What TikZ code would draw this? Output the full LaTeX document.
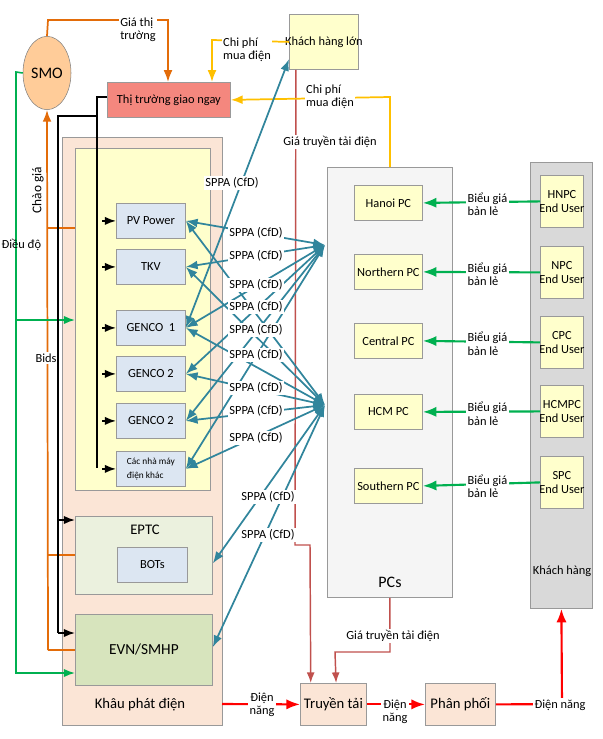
\documentclass[tikz,border=0pt]{standalone}
\usepackage{fontspec}
\setmainfont{Carlito}
\usetikzlibrary{arrows.meta, positioning, shapes.geometric, calc}
\tikzset{>=Latex}
\definecolor{peach}{HTML}{FBE5D6}
\definecolor{lyel}{HTML}{FFFFCC}
\definecolor{bgrey}{HTML}{DCE6F2}
\definecolor{lgreen}{HTML}{EBF1DE}
\definecolor{mgreen}{HTML}{D7E4BD}
\definecolor{salmon}{HTML}{F4877E}
\definecolor{teal}{HTML}{31859C}
\definecolor{dorange}{HTML}{E36C09}
\definecolor{gold}{HTML}{FFC000}
\definecolor{brick}{HTML}{C0504D}
\definecolor{ggreen}{HTML}{00B050}
\tikzset{
  box/.style n args={2}{draw=gray!80, line width=.6pt, anchor=north west, inner sep=0pt,
    minimum width=#1*0.75pt, minimum height=#2*0.75pt},
  lbl/.style={font=\fontsize{9.3}{10}\selectfont, align=center, inner sep=1pt},
  sppa/.style={lbl, fill=white},
  cfd/.style={<->, teal, line width=1.3pt},
}
\begin{document}
\begin{tikzpicture}[x=0.75pt, y=-0.75pt, font=\fontsize{9.3}{10}\selectfont]
\useasboundingbox (0,0) rectangle (603,739);
% outer groups
\node[box={160}{588}, fill=peach] (gen) at (62,137) {};
\node[box={135}{342}, fill=lyel] (ygrp) at (75,148) {};
\node[box={125}{430}, fill=black!4] (pcs) at (327,167) {};
\node[box={62}{446}, fill=black!15] (kh) at (530,162) {};
\node[lbl, font=\fontsize{11}{12}\selectfont] at (140,705) {Khâu phát điện};
\node[lbl, font=\fontsize{12}{13}\selectfont] at (390,582) {PCs};
\node[lbl] at (562,571) {Khách hàng};
% top
\node[ellipse, draw=gray, fill=orange!40, minimum width=36pt, minimum height=55pt, inner sep=0pt, font=\fontsize{12}{13}\selectfont] (smo) at (47,73) {SMO};
\node[box={123}{35}, fill=salmon] (spot) at (107,82) {};
\node[lbl] at (spot.center) {Thị trường giao ngay};
\node[box={69}{55}, fill=lyel] (khl) at (289,14) {};
\node[lbl] at (khl.center) {Khách hàng lớn};
% generators
\foreach \n/\y in {pv/203, tkv/249, g1/310, g2/356, g3/403, other/451}
  \node[box={69}{35}, fill=bgrey] (\n) at (116,\y) {};
\foreach \n/\t in {pv/PV Power, tkv/TKV, g1/GENCO\ \ 1, g2/GENCO 2, g3/GENCO 2}
  \node[lbl] at (\n.center) {\t};
\node[lbl, font=\fontsize{7}{10}\selectfont, align=left] at (other.center) {Các nhà máy\\điện khác};
\node[box={137}{78}, fill=lgreen] (eptc) at (75,516) {};
\node[lbl, font=\fontsize{11}{12}\selectfont] at (145,530) {EPTC};
\node[box={70}{35}, fill=bgrey] (bots) at (117,547) {};
\node[lbl] at (bots.center) {BOTs};
\node[box={137}{71}, fill=mgreen] (evn) at (75,614) {};
\node[lbl, font=\fontsize{11.5}{12}\selectfont] at (evn.center) {EVN/SMHP};
% PCs and end users
\foreach \n/\y in {hn/185, np/254, cp/323, hcm/394, sp/468}
  \node[box={68}{35}, fill=lyel] (\n) at (354,\y) {};
\foreach \n/\t in {hn/Hanoi PC, np/Northern PC, cp/Central PC, hcm/HCM PC, sp/Southern PC}
  \node[lbl] at (\n.center) {\t};
\foreach \n/\y in {uhn/175, unp/246, ucp/316, uhcm/385, usp/456}
  \node[box={43}{52}, fill=lyel] (\n) at (540,\y) {};
\foreach \n/\t/\p in {uhn/HNPC/hn, unp/NPC/np, ucp/CPC/cp, uhcm/HCMPC/hcm, usp/SPC/sp}{
  \node[lbl] at (\n.center) {\t\\End User};
  \draw[->, ggreen, line width=1.6pt] (\n.west) -- (\p.east);
  \node[lbl, fill=white, align=left] at ($(\n.west)!0.5!(\p.east)+(6,2)$) {Biểu giá\\bản lẻ};
}
% bottom chain
\node[box={66}{42}, fill=peach] (tt) at (300,683) {};
\node[lbl, font=\fontsize{11}{12}\selectfont] at (tt.center) {Truyền tải};
\node[box={70}{42}, fill=peach] (pp) at (425,683) {};
\node[lbl, font=\fontsize{11}{12}\selectfont] at (pp.center) {Phân phối};
\draw[->, red, line width=1.6pt] (222,704) -- (tt.west);
\node[lbl, fill=white] at (262,705) {Điện\\năng};
\draw[->, red, line width=1.6pt] (tt.east) -- (pp.west);
\node[lbl, fill=white] at (395,712) {Điện\\năng};
\coordinate (kb) at (kh.south);
\draw[->, red, line width=1.6pt] (pp.east) -- (562,704) -- (kb);
\node[lbl, fill=white] at (560,705) {Điện năng};
% transmission price
\draw[->, brick, line width=1.1pt] ([xshift=-21pt]khl.south) -- (295,545) -- (310,545) -- ([xshift=-17pt]tt.north);
\node[lbl, fill=white] at (330,142) {Giá truyền tải điện};
\draw[->, brick, line width=1.1pt] (pcs.south) -- (390,652) -- (335,652) -- ([xshift=2]tt.north);
\node[lbl, fill=white] at (393,636) {Giá truyền tải điện};
% costs
\draw[->, gold, line width=1.3pt] (khl.west) -- (212,40) -- (212,82);
\node[lbl, fill=white, align=left] at (247,50) {Chi phí\\mua điện};
\draw[->, gold, line width=1.3pt] (390,167) -- (390,97) -- (spot.east);
\node[lbl, fill=white, align=left] at (330,97) {Chi phí\\mua điện};
% market price, bids
\draw[->, dorange, line width=1.3pt] (smo.north) -- (48,20) -- (168,20) -- (168,82);
\node[lbl, fill=white, align=left] at (138,30) {Giá thị\\trường};
\draw[->, dorange, line width=1.3pt] (48,650) -- (smo.south);
\draw[dorange, line width=1.3pt] (48,228) -- (75,228) (48,555) -- (75,555) (48,650) -- (75,650);
\node[lbl, rotate=90, font=\fontsize{10}{11}\selectfont] at (38,190) {Chào giá};
\node[lbl, fill=white] at (46,358) {Bids};
% dispatch
\draw[->, ggreen, line width=1.2pt] (smo.west) -- (16,72) -- (16,673) -- (75,673);
\draw[->, ggreen, line width=1.2pt] (16,320) -- (75,320);
\node[lbl, anchor=west] at (0,245) {Điều độ};
% spot market links
\draw[black, line width=1.2pt] (spot.west |- 0,97) -- (97,97) -- (97,468);
\foreach \n in {pv, tkv, g1, g2, g3, other}
  \draw[->, black, line width=1.2pt] (\n.west) ++(-14,0) -- (\n.west);
\draw[black, line width=1.2pt] (97,116) -- (58,116) -- (58,633);
\draw[->, black, line width=1.2pt] (58,520) -- (75,520);
\draw[->, black, line width=1.2pt] (58,633) -- (75,633);
% SPPA contracts
\coordinate (hubA) at (325,245);
\coordinate (hubB) at (325,405);
\foreach \n in {pv, tkv, g1, g2, g3, other}{
  \draw[cfd] (\n.east) -- (hubA);
  \draw[cfd] (\n.east) -- (hubB);
}
\draw[cfd] ([yshift=-6]eptc.east) -- (hubB);
\draw[cfd] ([yshift=2]evn.east) -- (hubB);
\draw[cfd] (g1.east) -- ([yshift=8]khl.south west);
\foreach \y in {233,256,285,307,330,355,388,411,438}
  \node[sppa] at (256,\y) {SPPA (CfD)};
\node[sppa] at (232,183) {SPPA (CfD)};
\node[sppa] at (268,497) {SPPA (CfD)};
\node[sppa] at (268,535) {SPPA (CfD)};
\end{tikzpicture}
\end{document}
